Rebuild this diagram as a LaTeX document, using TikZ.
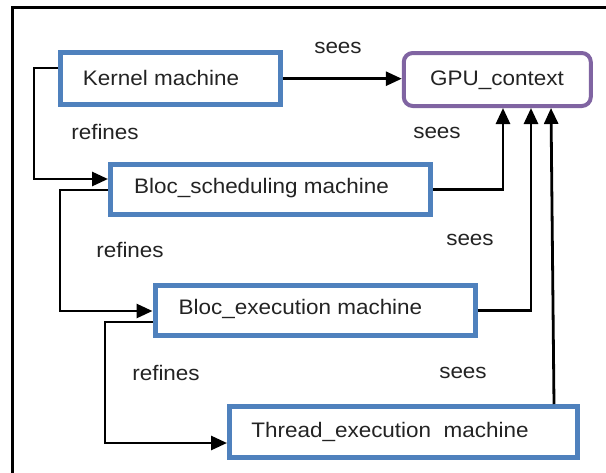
\documentclass[tikz,border=0pt]{standalone}
\usepackage{fontspec}
\setmainfont[FakeStretch=1.07]{Liberation Sans}
\usetikzlibrary{arrows.meta,calc}
\definecolor{boxblue}{RGB}{79,129,189}
\definecolor{boxpurple}{RGB}{128,100,162}
\definecolor{txt}{RGB}{35,35,35}
\tikzset{
  mbox/.style={draw=boxblue, line width=5pt, minimum height=50pt, inner sep=0pt},
  ctxbox/.style={draw=boxpurple, line width=4pt, rounded corners=9pt, minimum width=187pt, minimum height=53pt, inner sep=0pt},
  lbl/.style={text=txt, font=\fontsize{21}{25}\selectfont, inner sep=0pt},
  arr/.style={line width=2.8pt, -{Triangle[length=16pt,width=14pt]}},
  frame/.style={line width=3pt}
}
\begin{document}
\begin{tikzpicture}[x=1pt,y=-1pt]
\useasboundingbox (0,0) rectangle (606,472);
\draw[frame] (607,7) -- (12,7) -- (12,473);

\node[mbox, minimum width=220pt, minimum height=52.5pt] (kernel) at (170.5,78.7) {};
\node[ctxbox] (gpu) at (497.3,79.5) {};
\node[mbox, minimum width=320pt] (sched) at (270.5,189.5) {};
\node[mbox, minimum width=320pt] (exec) at (315,310.5) {};
\node[mbox, minimum width=348pt, minimum height=51pt] (thread) at (403.5,432) {};

\node[lbl] (tkernel) at (161,78) {Kernel machine};
\node[lbl] (tgpu) at (497,80) {GPU\_context};
\node[lbl] (tsched) at (261.5,188) {Bloc\_scheduling machine};
\node[lbl] (texec) at (300.5,309) {Bloc\_execution machine};
\node[lbl] (tthread) at (390,432) {Thread\_execution\ \ machine};

\node[lbl] (s1) at (338,48) {sees};
\node[lbl] (s2) at (437,133) {sees};
\node[lbl] (s3) at (470,240) {sees};
\node[lbl] (s4) at (463,373) {sees};
\node[lbl] (r1) at (105,132) {refines};
\node[lbl] (r2) at (130,250) {refines};
\node[lbl] (r3) at (166,373) {refines};

\draw[arr] (kernel.east) -- (gpu.west |- kernel.east);
\draw[arr] (kernel.west |- 0,68) -- (34,68) |- (sched.west |- 0,179);
\draw[arr] (sched.west |- 0,190) -- (60,190) |- (exec.west |- 0,311);
\draw[arr] (exec.west |- 0,322) -- (105,322) |- (thread.west |- 0,443);
\draw[arr] (sched.east) -| (503,0 |- gpu.south);
\draw[arr] (exec.east) -| (531,0 |- gpu.south);
\draw[arr] (554,0 |- thread.north) -- (551,0 |- gpu.south);
\end{tikzpicture}
\end{document}
